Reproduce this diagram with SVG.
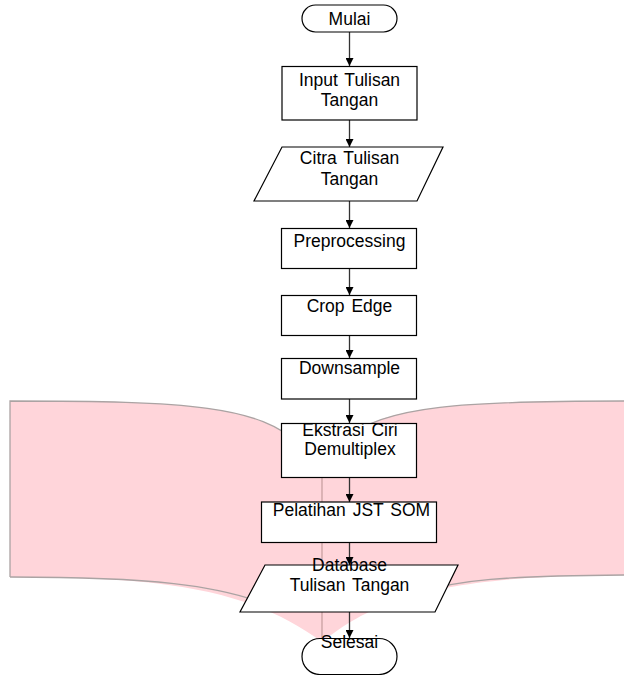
<svg xmlns="http://www.w3.org/2000/svg" width="624" height="675" viewBox="0 0 624 675">
<defs>
<style>
.n{fill:#fff;stroke:#000;stroke-width:1.2}
.t{font-family:"Liberation Sans",Arial,sans-serif;font-size:17.5px;fill:#000;text-anchor:middle;word-spacing:2px}
.c{stroke:#333;stroke-width:1.3;fill:none;marker-end:url(#ah)}
.pk{fill:#ffd5da;stroke:none}
.pe{fill:none;stroke:#aba3a3;stroke-width:1.3}
</style>
<marker id="ah" viewBox="0 0 8 8" refX="8" refY="4" markerWidth="8" markerHeight="8" markerUnits="userSpaceOnUse" orient="auto">
<path d="M0,0 L8,4 L0,8 Z" fill="#000"/>
</marker>
</defs>
<rect width="624" height="675" fill="#fff"/>
<g id="flow-background">
<path class="pk" d="M10 401 C190 401 260 406 300 445 L322 477 L322 642 C250 590 170 577 10 577 Z"/>
<path class="pk" d="M624 401 C470 401 380 405 345 440 L322 477 L322 642 C380 595 450 576 624 575 Z"/>
<path class="pe" d="M10 577 L10 401 C190 401 260 406 300 445"/>
<path class="pe" d="M10 577 C150 577 220 585 270 606"/>
<path class="pe" d="M624 401 C470 401 380 405 345 440"/>
<path class="pe" d="M624 575 C500 576 460 580 420 592"/>
<line x1="322" y1="477" x2="322" y2="640" stroke="#c49c9c" stroke-width="1.2"/>
</g>
<g id="connectors">
<line class="c" x1="349.5" y1="32" x2="349.5" y2="66"/>
<line class="c" x1="349.5" y1="120" x2="349.5" y2="147"/>
<line class="c" x1="349.5" y1="201" x2="349.5" y2="228"/>
<line class="c" x1="349.5" y1="268" x2="349.5" y2="295"/>
<line class="c" x1="349.5" y1="336" x2="349.5" y2="358"/>
<line class="c" x1="349.5" y1="399" x2="349.5" y2="423"/>
<line class="c" x1="349.5" y1="477" x2="349.5" y2="502"/>
<line class="c" x1="349.5" y1="542" x2="349.5" y2="565"/>
<line class="c" x1="349.5" y1="612" x2="349.5" y2="638"/>
</g>
<g id="mulai">
<rect class="n" x="302" y="5" width="95" height="27" rx="13.5"/>
<text class="t" x="349.5" y="25">Mulai</text>
</g>
<g id="input">
<rect class="n" x="282" y="66.5" width="135" height="53.5"/>
<text class="t" x="349.5" y="86">Input Tulisan</text>
<text class="t" x="349.5" y="106">Tangan</text>
</g>
<g id="citra">
<polygon class="n" points="282,147 443,147 417,201 254,201"/>
<text class="t" x="349.5" y="164">Citra Tulisan</text>
<text class="t" x="349.5" y="185">Tangan</text>
</g>
<g id="preprocessing">
<rect class="n" x="281.5" y="228.5" width="135" height="40"/>
<text class="t" x="349.5" y="247">Preprocessing</text>
</g>
<g id="crop-edge">
<rect class="n" x="281.5" y="295.5" width="135" height="40"/>
<text class="t" x="349.5" y="312">Crop Edge</text>
</g>
<g id="downsample">
<rect class="n" x="281.5" y="358.5" width="135" height="40.5"/>
<text class="t" x="349.5" y="374">Downsample</text>
</g>
<g id="ekstrasi">
<rect class="n" x="281.5" y="423.5" width="135" height="54"/>
<text class="t" x="350" y="436">Ekstrasi Ciri</text>
<text class="t" x="350" y="455">Demultiplex</text>
</g>
<g id="pelatihan">
<rect class="n" x="261.5" y="502" width="175" height="40.5"/>
<text class="t" x="351.5" y="515.5">Pelatihan JST SOM</text>
</g>
<g id="database">
<polygon class="n" points="265,565 458,565 435,612 240,612"/>
<text class="t" x="349.5" y="571">Database</text>
<text class="t" x="349.5" y="591">Tulisan Tangan</text>
</g>
<g id="selesai">
<rect class="n" x="302" y="638.5" width="95" height="36" rx="18"/>
<text class="t" x="349.5" y="648">Selesai</text>
</g>
</svg>
